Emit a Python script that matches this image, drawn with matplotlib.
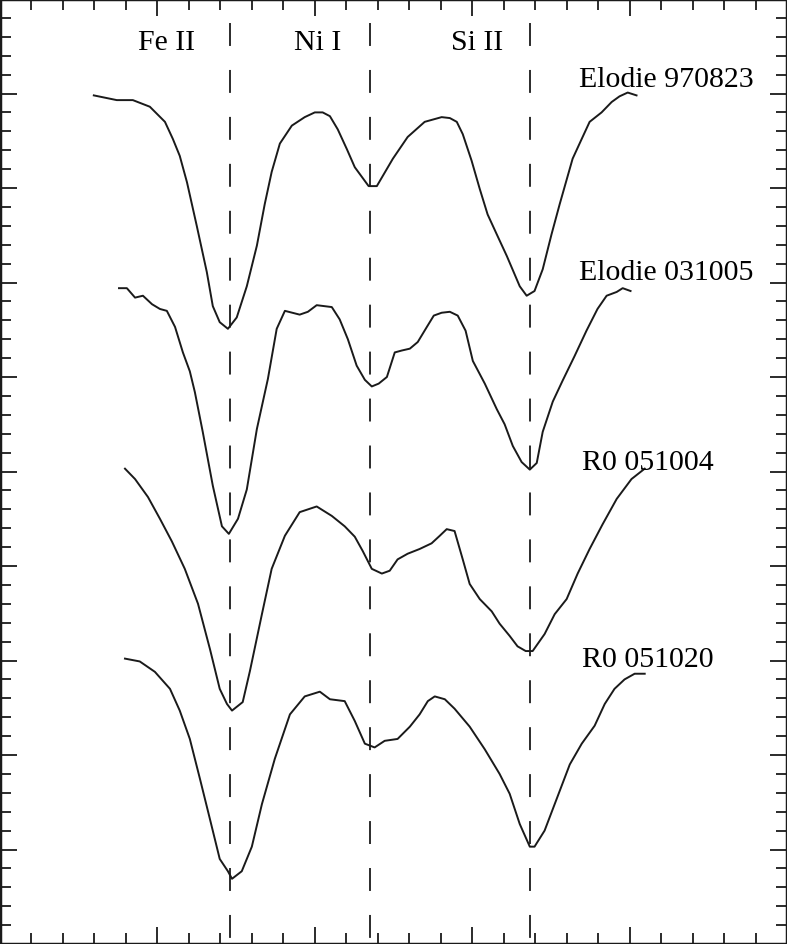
import matplotlib.pyplot as plt
from matplotlib.ticker import MultipleLocator

# spectra (x: wavelength units, y: flux + offset)
x_970823 = [2.98, 3.71, 4.22, 4.76, 5.24, 5.49, 5.71, 5.94, 6.25, 6.57, 6.76, 6.98, 7.24, 7.52,
            7.84, 8.16, 8.41, 8.63, 8.89, 9.27, 9.68, 10.0, 10.25, 10.48, 10.73, 11.02, 11.27,
            11.49, 11.71, 11.97, 12.48, 12.95, 13.49, 14.03, 14.29, 14.51, 14.70, 14.98, 15.24,
            15.49, 15.78, 16.10, 16.51, 16.73, 16.98, 17.24, 17.52, 17.78, 18.19, 18.48, 18.73,
            19.11, 19.43, 19.68, 19.94, 20.22]
y_970823 = [8.98, 8.93, 8.93, 8.86, 8.70, 8.52, 8.34, 8.06, 7.60, 7.11, 6.75, 6.58, 6.51, 6.63,
            6.96, 7.39, 7.83, 8.17, 8.47, 8.66, 8.75, 8.80, 8.80, 8.76, 8.62, 8.41, 8.22,
            8.12, 8.02, 8.02, 8.31, 8.54, 8.70, 8.75, 8.74, 8.70, 8.57, 8.29, 7.99,
            7.72, 7.51, 7.28, 6.96, 6.86, 6.91, 7.14, 7.51, 7.83, 8.31, 8.52, 8.70,
            8.80, 8.91, 8.97, 9.01, 8.98]

x_031005 = [3.78, 4.03, 4.29, 4.54, 4.83, 5.08, 5.30, 5.56, 5.81, 6.03, 6.19, 6.44, 6.76, 7.05,
            7.27, 7.56, 7.84, 8.16, 8.51, 8.79, 9.05, 9.52, 9.78, 10.06, 10.54, 10.79, 11.05,
            11.33, 11.59, 11.81, 12.03, 12.29, 12.54, 12.76, 13.02, 13.27, 13.56, 13.78, 14.03,
            14.29, 14.54, 14.79, 15.02, 15.40, 15.78, 16.03, 16.29, 16.57, 16.83, 17.05, 17.24,
            17.56, 17.87, 18.25, 18.63, 18.98, 19.27, 19.59, 19.78, 20.03]
y_031005 = [6.94, 6.94, 6.84, 6.86, 6.77, 6.72, 6.70, 6.53, 6.26, 6.06, 5.84, 5.42, 4.85, 4.42,
            4.34, 4.50, 4.81, 5.45, 5.98, 6.51, 6.70, 6.66, 6.69, 6.76, 6.74, 6.61, 6.40,
            6.12, 5.97, 5.90, 5.93, 6.00, 6.26, 6.28, 6.30, 6.37, 6.53, 6.65, 6.68,
            6.69, 6.65, 6.49, 6.17, 5.93, 5.66, 5.50, 5.27, 5.10, 5.02, 5.09, 5.42,
            5.74, 5.96, 6.22, 6.49, 6.72, 6.86, 6.90, 6.94, 6.91]

x_051004 = [3.97, 4.29, 4.70, 5.08, 5.46, 5.87, 6.29, 6.67, 6.98, 7.21, 7.37, 7.71, 7.94, 8.32,
            8.63, 9.05, 9.52, 10.06, 10.54, 10.95, 11.27, 11.52, 11.81, 12.13, 12.38, 12.63,
            12.95, 13.33, 13.71, 13.97, 14.19, 14.44, 14.70, 14.92, 15.24, 15.62, 15.87, 16.19,
            16.44, 16.70, 16.92, 17.30, 17.62, 18.00, 18.35, 18.73, 19.14, 19.59, 20.06, 20.48]
y_051004 = [5.03, 4.92, 4.73, 4.50, 4.26, 3.97, 3.60, 3.12, 2.70, 2.54, 2.47, 2.56, 2.89, 3.49,
            3.97, 4.32, 4.57, 4.63, 4.53, 4.42, 4.31, 4.16, 3.97, 3.92, 3.95, 4.07,
            4.13, 4.18, 4.24, 4.32, 4.39, 4.37, 4.07, 3.81, 3.65, 3.52, 3.39, 3.26,
            3.15, 3.10, 3.10, 3.28, 3.49, 3.65, 3.92, 4.18, 4.44, 4.71, 4.92, 5.03]

x_051020 = [3.97, 4.44, 4.92, 5.40, 5.71, 6.03, 6.35, 6.67, 6.98, 7.24, 7.37, 7.68, 8.00, 8.32,
            8.73, 9.21, 9.68, 10.16, 10.48, 10.95, 11.27, 11.59, 11.90, 12.22, 12.63, 13.02,
            13.33, 13.59, 13.81, 14.13, 14.44, 14.92, 15.40, 15.87, 16.19, 16.51, 16.83, 16.98,
            17.30, 17.62, 18.10, 18.48, 18.89, 19.21, 19.52, 19.84, 20.16, 20.48]
y_051020 = [3.02, 2.99, 2.88, 2.70, 2.47, 2.17, 1.75, 1.32, 0.90, 0.77, 0.69, 0.77, 1.03, 1.48,
            1.96, 2.43, 2.62, 2.67, 2.59, 2.57, 2.36, 2.12, 2.08, 2.15, 2.17, 2.30,
            2.43, 2.57, 2.62, 2.59, 2.49, 2.30, 2.06, 1.80, 1.59, 1.27, 1.03, 1.03,
            1.20, 1.48, 1.90, 2.12, 2.31, 2.54, 2.70, 2.80, 2.86, 2.86]

spectra = [(x_970823, y_970823), (x_031005, y_031005), (x_051004, y_051004), (x_051020, y_051020)]
spec_labels = ['Elodie 970823', 'Elodie 031005', 'R0 051004', 'R0 051020']
label_x = [18.38, 18.38, 18.50, 18.50]
label_y = [9.08, 7.04, 5.03, 2.94]

lines_x = [7.30, 11.75, 16.83]
line_names = ['Fe II', 'Ni I', 'Si II']
line_name_x = [5.30, 10.10, 15.17]

plt.rcParams['font.family'] = ['Liberation Serif', 'DejaVu Serif']

fig = plt.figure(figsize=(7.87, 9.45), dpi=100)
ax = fig.add_axes([0, 0, 1, 1])

for (xs, ys) in spectra:
    ax.plot(xs, ys, color='#1a1a1a', lw=1.4)

for x in lines_x:
    ax.plot([x, x], [10, 0], color='#1a1a1a', lw=1.3, linestyle=(12.7, (12.7, 13.3)))

for name, x in zip(line_names, line_name_x):
    ax.text(x, 9.47, name, ha='center', va='baseline', fontsize=21.5)

for lab, x, y in zip(spec_labels, label_x, label_y):
    ax.text(x, y, lab, ha='left', va='baseline', fontsize=21.5)

ax.set_xlim(0, 25)
ax.set_ylim(0, 10)
ax.xaxis.set_major_locator(MultipleLocator(5))
ax.xaxis.set_minor_locator(MultipleLocator(1))
ax.yaxis.set_major_locator(MultipleLocator(1))
ax.yaxis.set_minor_locator(MultipleLocator(0.2))
ax.tick_params(which='both', direction='in', top=True, right=True,
               labelbottom=False, labelleft=False, color='#1a1a1a')
ax.tick_params(which='major', length=12, width=1.3)
ax.tick_params(which='minor', length=8, width=1.3)
for s in ax.spines.values():
    s.set_linewidth(2.5)
    s.set_color('#1a1a1a')

fig.savefig('out.png', dpi=100)
